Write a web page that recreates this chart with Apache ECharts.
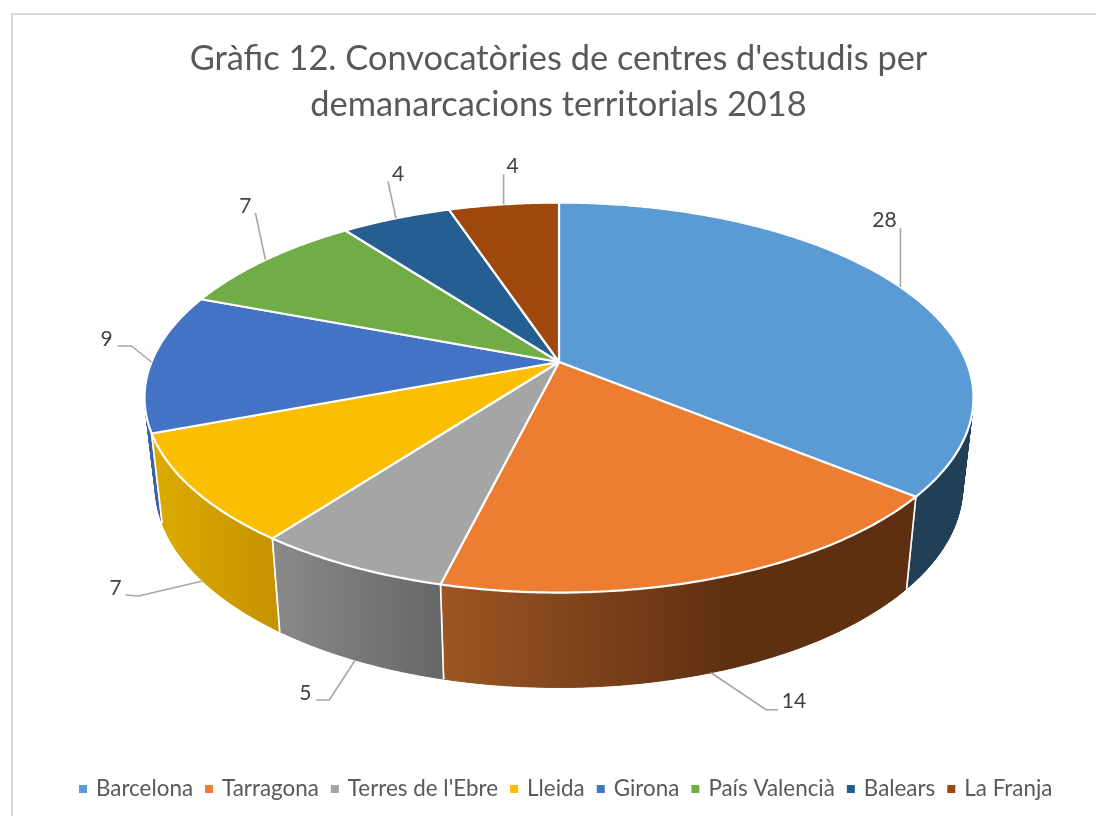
<!DOCTYPE html>
<html>
<head>
<meta charset="utf-8">
<style>html,body{margin:0;padding:0;background:#fff}#chart{width:1096px;height:816px}</style>
<script src="https://cdn.jsdelivr.net/npm/echarts@6/dist/echarts.min.js"></script>
</head>
<body>
<div id="chart"></div>
<script>
const categories = ['Barcelona','Tarragona',"Terres de l'Ebre",'Lleida','Girona','País Valencià','Balears','La Franja'];
const values = [28,14,5,7,9,7,4,4];
const topColors = ['#5B9BD5','#ED7D31','#A5A5A5','#FBBE00','#4472C4','#70AD47','#255E91','#9E480E'];
const wallLeft = ['#223F58','#9C5624','#8A8A8A','#DCAB00','#3A63A8','#4C7A30','#1A4268','#6E320A'];
const wallRight = ['#223F58','#5E2F11','#666666','#C49300','#3A63A8','#4C7A30','#1A4268','#6E320A'];
const wallStop = [1,0.62,1,1,1,1,1,1];
const titleText = "Gràfic 12. Convocatòries de centres d'estudis per\ndemanarcacions territorials 2018";

// Perspective model of the pie disc
const cx = 559, cy = 362, A = 407.5, B = 188.5, P = 0.1825;
const bottomScaleX = 0.974, bottomScaleY = 1.03, bottomCy = 450;
// Leader lines relative to the rim anchor, text relative to the last point
const leaderBends = [
  [[0,-59]],
  [[55,37],[67,37]],
  [[-26,40],[-39,40]],
  [[-64,15],[-77,14]],
  [[-20,-16],[-34,-16]],
  [[-10,-47]],
  [[-8,-37]],
  [[0,-30]]
];
const labelShift = [[-16,-8],[16,-8],[-11,-7],[-10,-7],[-11,-7],[-10,-7],[10,-7],[9,-8]];
// Walls are painted back to front
const wallOrder = [7,6,5,0,4,1,3,2];

const total = values.reduce((a,b)=>a+b,0);
const cumulative = values.map((_,i)=>values.slice(0,i).reduce((a,b)=>a+b,0));
function project(t){
  const u = Math.sin(t), v = -Math.cos(t), s = 1/(1-P*v);
  return [cx + A*u*s, cy + B*v*s];
}
function lower(p){
  return [cx + (p[0]-cx)*bottomScaleX, bottomCy + (p[1]-cy)*bottomScaleY];
}
function arcPoints(a0,a1){
  const n = Math.max(6, Math.ceil((a1-a0)/0.01)), pts = [];
  for(let k=0;k<=n;k++) pts.push(project(a0+(a1-a0)*k/n));
  return pts;
}
function sectorAngles(i, value){
  const a0 = cumulative[i]/total*Math.PI*2;
  return [a0, a0 + value/total*Math.PI*2];
}
function wallRender(i){
  return function(params, api){
    const [a0,a1] = sectorAngles(i, api.value(0));
    const rim = arcPoints(a0,a1);
    const low = rim.map(lower);
    const xs = rim.concat(low).map(p=>p[0]);
    const fill = {type:'linear',global:true,x:Math.min(...xs),y:0,x2:Math.max(...xs),y2:0,colorStops:[
      {offset:0,color:wallLeft[i]},{offset:wallStop[i],color:wallRight[i]},{offset:1,color:wallRight[i]}]};
    const children = [];
    // Quads give the straight silhouette at the disc's sides
    for(let k=0;k<rim.length-1;k++){
      children.push({type:'polygon',shape:{points:[rim[k],rim[k+1],low[k+1],low[k]]},
        style:{fill:fill,stroke:fill,lineWidth:0.8}});
    }
    // The whole strip on top hides the seams between the quads
    children.push({type:'polygon',shape:{points:rim.concat(low.slice().reverse())},style:{fill:fill}});
    children.push({type:'polyline',shape:{points:[rim[0],low[0]]},style:{fill:null,stroke:'#ffffff',lineWidth:1.6}});
    children.push({type:'polyline',shape:{points:[rim[rim.length-1],low[low.length-1]]},style:{fill:null,stroke:'#ffffff',lineWidth:1.6}});
    return {type:'group',children};
  };
}
function topRender(i){
  return function(params, api){
    const val = api.value(0);
    const [a0,a1] = sectorAngles(i, val);
    const pts = [[cx,cy]].concat(arcPoints(a0,a1));
    const mid = (a0+a1)/2;
    let anchor = project(mid);
    if(-Math.cos(mid) > 0.01) anchor = lower(anchor);
    const line = [anchor].concat(leaderBends[i].map(d=>[anchor[0]+d[0],anchor[1]+d[1]]));
    const last = line[line.length-1];
    return {
      type:'group',
      children:[
        {type:'polygon',shape:{points:pts},style:{fill:topColors[i],stroke:'#ffffff',lineWidth:2.2,lineJoin:'round'}},
        {type:'polyline',shape:{points:line},style:{fill:null,stroke:'#A6A6A6',lineWidth:1.6}},
        {type:'text',style:{
          x:last[0]+labelShift[i][0],y:last[1]+labelShift[i][1],text:String(val),
          align:'center',verticalAlign:'middle',fill:'#404040',
          font:'21px Lato'}}
      ]
    };
  };
}
const series = [];
wallOrder.forEach(i=>{
  series.push({type:'custom',name:categories[i],coordinateSystem:'none',z:2,silent:true,
    itemStyle:{color:topColors[i]},data:[[values[i]]],renderItem:wallRender(i)});
});
categories.forEach((name,i)=>{
  series.push({type:'custom',name,coordinateSystem:'none',z:3,silent:true,
    itemStyle:{color:topColors[i]},data:[[values[i]]],renderItem:topRender(i)});
});
const chart = echarts.init(document.getElementById('chart'),null,{renderer:'canvas'});
chart.setOption({
  animation:false,
  backgroundColor:'#ffffff',
  title:{
    text:titleText,left:553.5,top:31,textAlign:'center',
    textStyle:{fontFamily:'Lato',fontSize:34.4,fontWeight:'normal',color:'#595959',lineHeight:46}
  },
  legend:{
    data:categories,bottom:11,left:74,icon:'rect',itemWidth:8,itemHeight:8,itemGap:12,
    textStyle:{fontFamily:'Lato',fontSize:22.4,color:'#595959',padding:[0,0,0,4]}
  },
  graphic:[
    {type:'polyline',silent:true,shape:{points:[[12,830],[12,14],[1110,14]]},
     style:{fill:null,stroke:'#D9D9D9',lineWidth:2}}
  ],
  series
});
</script>
</body>
</html>
